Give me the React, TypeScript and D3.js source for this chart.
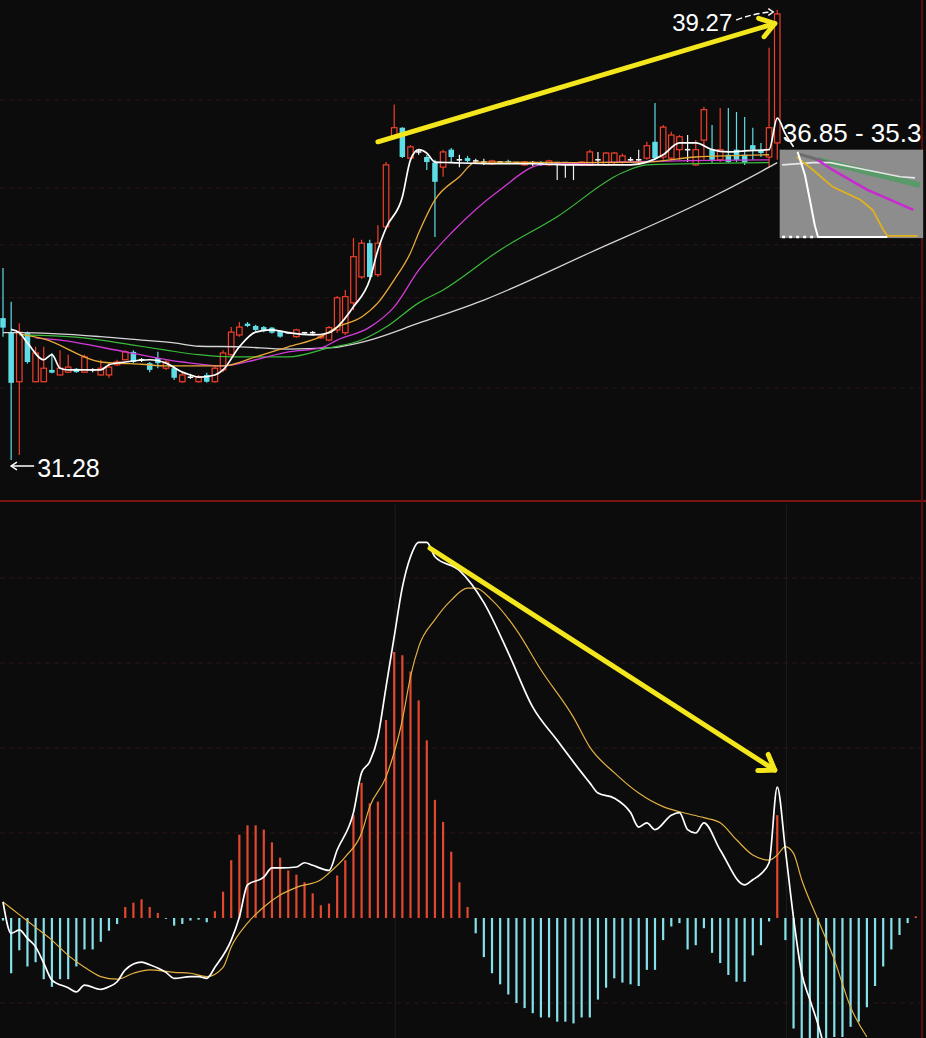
import React, { useEffect } from 'react';
import * as d3 from 'd3';

const W = 926;
const H = 1038;

// ---------- price panel: candles (index 0..95) ----------
const candleOpen = [33.80,33.54,32.67,33.54,32.67,32.67,32.88,32.79,32.84,32.90,32.84,32.88,32.79,32.79,32.97,33.06,33.20,33.06,33.00,33.09,32.91,32.91,32.67,32.75,32.67,32.79,32.67,32.88,33.15,33.50,33.70,33.66,33.64,33.63,33.57,33.54,33.47,33.54,33.54,33.45,33.41,33.59,33.54,34.07,34.53,35.13,34.57,35.42,37.03,37.18,36.64,36.75,36.66,36.56,36.48,36.79,36.61,36.64,36.59,36.57,36.54,36.57,36.59,36.56,36.52,36.56,36.57,36.52,36.56,36.56,36.54,36.52,36.52,36.61,36.52,36.56,36.57,36.61,36.61,36.64,36.93,36.66,36.64,36.79,36.79,36.52,36.96,36.79,36.61,36.70,36.79,36.70,36.87,36.79,36.66,36.91];
const candleClose = [33.63,32.65,33.55,33.02,33.18,32.91,32.83,32.91,32.93,32.84,33.11,32.88,32.91,32.93,33.02,33.20,33.02,33.06,32.88,33.00,33.02,32.74,32.79,32.75,32.75,32.67,32.91,33.18,33.55,33.64,33.66,33.59,33.57,33.54,33.47,33.54,33.59,33.54,33.54,33.48,33.63,34.16,34.18,34.89,35.13,34.53,35.13,36.52,37.18,36.66,36.84,36.75,36.57,36.22,36.75,36.66,36.61,36.59,36.59,36.57,36.59,36.57,36.56,36.56,36.57,36.56,36.52,36.59,36.56,36.56,36.54,36.57,36.75,36.61,36.73,36.73,36.68,36.61,36.61,36.86,36.64,37.19,37.05,37.02,36.79,36.79,37.50,36.61,36.79,36.57,36.61,36.56,36.79,36.73,37.18,39.20];
const candleHigh = [34.69,34.09,33.71,33.56,33.29,33.29,33.18,33.23,33.15,32.91,33.15,32.91,33.06,33.02,33.06,33.23,33.23,33.09,33.02,33.20,33.06,32.95,32.84,32.81,32.79,32.83,32.95,33.23,33.64,33.73,33.73,33.68,33.66,33.64,33.59,33.55,33.61,33.55,33.57,33.50,33.66,34.19,34.30,35.22,35.19,35.19,35.45,36.57,37.59,37.19,36.87,36.79,36.70,36.61,36.79,36.82,36.70,36.68,36.63,36.63,36.61,36.59,36.61,36.57,36.59,36.59,36.59,36.61,36.57,36.57,36.56,36.59,36.79,36.75,36.75,36.75,36.72,36.66,36.79,36.93,37.62,37.23,37.11,37.05,37.05,36.96,37.55,37.23,37.53,37.53,37.46,37.37,37.18,36.91,38.60,39.27];
const candleLow = [33.47,31.28,31.37,32.99,32.66,32.66,32.82,32.78,32.83,32.83,32.83,32.84,32.78,32.74,32.95,33.05,33.00,33.02,32.84,32.91,32.88,32.70,32.65,32.72,32.65,32.65,32.65,32.84,33.11,33.47,33.64,33.57,33.55,33.52,33.45,33.52,33.45,33.52,33.50,33.43,33.39,33.54,33.50,33.94,34.50,34.51,34.53,35.37,37.02,36.64,36.61,36.70,36.43,35.24,36.31,36.57,36.48,36.56,36.56,36.52,36.52,36.56,36.54,36.54,36.50,36.50,36.50,36.50,36.25,36.29,36.25,36.50,36.50,36.52,36.50,36.52,36.54,36.56,36.52,36.61,36.61,36.61,36.61,36.61,36.57,36.50,36.61,36.56,36.57,36.56,36.57,36.52,36.61,36.66,36.48,36.61];

// ---------- moving averages (sampled index / value) ----------
const ma5Idx = [1,2,3,5,6,7,8,12,13,15,18,20,22,23,24,26,27,29,31,33,35,38,40,41,43,45,46,47,49,50,51,52,53,55,60,65,70,77,79,81,83,85,87,89,91,94,95,96,97];
const ma5Val = [33.60,33.54,33.36,33.06,33.15,32.91,32.88,32.88,32.97,33.02,33.06,33.00,32.84,32.79,32.75,32.79,32.88,33.29,33.55,33.59,33.54,33.50,33.54,33.64,34.00,34.48,35.01,35.40,35.95,36.61,36.79,36.73,36.57,36.56,36.54,36.54,36.52,36.52,36.57,36.70,36.91,36.91,36.79,36.75,36.77,36.79,37.35,37.07,36.84];
const ma10Idx = [2,5,12,14,17,20,24,27,31,35,39,41,44,46,48,50,51,53,56,58,61,70,79,85,94];
const ma10Val = [33.52,33.43,33.02,33.00,32.98,32.95,32.95,32.95,33.11,33.29,33.47,33.64,33.82,34.07,34.48,34.96,35.31,35.90,36.31,36.57,36.57,36.56,36.57,36.66,36.70];
const ma20Idx = [4,7,15,22,27,31,35,39,41,45,48,51,55,61,66,73,94];
const ma20Val = [33.45,33.41,33.20,33.02,32.95,33.06,33.20,33.27,33.41,33.64,34.00,34.65,35.31,36.08,36.52,36.56,36.61];
const ma30Idx = [2,8,12,16,20,24,28,35,40,44,47,51,54,61,68,76,79,94];
const ma30Val = [33.50,33.47,33.41,33.32,33.23,33.15,33.11,33.11,33.27,33.41,33.64,34.07,34.30,35.01,35.60,36.38,36.52,36.56];
const ma60Idx = [0,2,12,17,21,24,29,35,40,45,51,59,72,87,94,95];
const ma60Val = [33.54,33.54,33.47,33.41,33.36,33.30,33.29,33.25,33.27,33.41,33.71,34.12,34.96,35.95,36.48,36.56];

const priceGrid = [37.67, 36.11, 35.10, 34.16, 32.56];

// ---------- pasted grey inset (its own lines, same scales) ----------
const insetBounds = { i0: 95.3, i1: 112.9, pTop: 36.79, pBottom: 35.22 };
const insetWhite: [number, number][] = [[97.5,36.75],[98.4,36.34],[99,35.90],[99.6,35.45],[100,35.24],[108.5,35.24]];
const insetDots: [number, number][] = [[95.6,35.24],[99.8,35.24]];
const insetYellow: [number, number][] = [[97.4,36.66],[99.4,36.43],[101.8,36.13],[105.2,35.90],[106.7,35.72],[108,35.37],[108.5,35.26],[112.2,35.26]];
const insetMagenta: [number, number][] = [[99.9,36.61],[101.8,36.43],[106,36.08],[111.7,35.72]];
const insetGreen: [number, number][] = [[99.9,36.61],[103.9,36.47],[110.1,36.25],[112.5,36.16]];
const insetLight: [number, number][] = [[95.6,36.52],[99.4,36.56],[101.5,36.56],[106,36.43],[110.1,36.31],[111.9,36.29]];
const insetGrey: [number, number][] = [[97.5,36.72],[101.5,36.55]];

// ---------- MACD panel ----------
const macdHist = [-0.003,-0.065,-0.038,-0.057,-0.052,-0.072,-0.081,-0.072,-0.072,-0.057,-0.037,-0.037,-0.028,-0.015,-0.007,0.013,0.018,0.022,0.013,0.006,-0.001,-0.009,-0.007,-0.003,-0.002,-0.005,0.008,0.031,0.068,0.098,0.109,0.109,0.104,0.089,0.071,0.056,0.051,0.042,0.029,0.015,0.017,0.050,0.068,0.121,0.159,0.135,0.137,0.233,0.313,0.309,0.290,0.256,0.209,0.139,0.113,0.078,0.042,0.013,-0.018,-0.046,-0.065,-0.078,-0.090,-0.100,-0.106,-0.112,-0.117,-0.117,-0.122,-0.122,-0.124,-0.117,-0.117,-0.096,-0.082,-0.071,-0.076,-0.078,-0.080,-0.061,-0.061,-0.026,-0.010,-0.006,-0.037,-0.032,-0.012,-0.041,-0.053,-0.067,-0.075,-0.075,-0.044,-0.032,-0.004,0.121,-0.026,-0.130,-0.150,-0.160,-0.160,-0.150,-0.140,-0.140,-0.128,-0.122,-0.105,-0.080,-0.057,-0.037,-0.020,-0.006,0.002];
const difIdx = [0,1,2,3,4,5,6,8,9,10,12,13,14,15,17,18,20,21,23,24,25,26,28,29,30,32,33,34,36,37,38,40,41,43,44,45,46,47,48,49,50,51,52,53,56,59,62,65,68,71,72,73,75,77,78,79,80,82,83,84,85,86,88,91,92,93,94,95,96,97,98,99,100,101];
const difVal = [0.019,-0.018,-0.014,-0.024,-0.034,-0.053,-0.073,-0.082,-0.087,-0.079,-0.084,-0.081,-0.075,-0.061,-0.052,-0.055,-0.064,-0.071,-0.069,-0.069,-0.071,-0.058,-0.026,0.001,0.039,0.048,0.059,0.059,0.060,0.065,0.062,0.056,0.080,0.124,0.171,0.184,0.213,0.272,0.331,0.389,0.425,0.442,0.442,0.425,0.409,0.371,0.312,0.248,0.209,0.171,0.159,0.147,0.141,0.124,0.107,0.112,0.104,0.121,0.124,0.104,0.100,0.112,0.080,0.039,0.045,0.052,0.065,0.154,0.080,0.000,-0.065,-0.096,-0.125,-0.160];
const deaIdx = [0,2,4,6,8,10,12,14,16,18,21,23,25,27,28,30,32,34,36,39,40,42,44,45,47,49,50,51,53,55,57,58,60,63,66,70,72,75,78,81,83,86,88,90,92,94,95,96,97,98,100,102,104,106];
const deaVal = [0.019,0.004,-0.011,-0.026,-0.044,-0.058,-0.069,-0.072,-0.065,-0.061,-0.064,-0.065,-0.069,-0.058,-0.034,-0.006,0.013,0.027,0.036,0.045,0.053,0.072,0.100,0.131,0.166,0.233,0.284,0.319,0.351,0.374,0.388,0.388,0.374,0.339,0.292,0.236,0.201,0.171,0.147,0.131,0.125,0.118,0.112,0.092,0.074,0.068,0.074,0.084,0.076,0.045,-0.002,-0.049,-0.105,-0.140];
const macdGrid = [0.4, 0.3, 0.2, 0.1, -0.1];
const macdVLines = [48, 96];

// ---------- annotations ----------
const highLabel = '39.27';
const lowLabel = '31.28';
const rangeLabel = '36.85 - 35.3';
const priceArrow = { from: [46, 36.93], to: [94.7, 39.03] };
const macdArrow = { from: [52.4, 0.435], to: [94.7, 0.174] };

const BG = '#0c0c0c';
const RED = '#f0402c';
const CYAN = '#5fdde6';
const FONT = "'Liberation Sans', Arial, sans-serif";

function zip(a: number[], b: number[]): [number, number][] {
  return a.map((v, k) => [v, b[k]] as [number, number]);
}

export default function App() {
  useEffect(() => {
    document.body.style.margin = '0';
    document.body.style.background = BG;
  }, []);

  const x = d3.scaleLinear().domain([0, 112]).range([3, 915.8]);
  const y = d3.scaleLinear().domain([31.28, 39.27]).range([460, 10]);
  const m = d3.scaleLinear().domain([0, 0.1]).range([918, 833]);

  const priceLine = d3.line<[number, number]>().x(d => x(d[0])).y(d => y(d[1])).curve(d3.curveMonotoneX);
  const priceLinear = d3.line<[number, number]>().x(d => x(d[0])).y(d => y(d[1]));
  const macdLine = d3.line<[number, number]>().x(d => x(d[0])).y(d => m(d[1])).curve(d3.curveMonotoneX);

  const bodyW = 5.5;

  const arrowHead = (x1: number, y1: number, x2: number, y2: number, len: number) => {
    const a = Math.atan2(y2 - y1, x2 - x1);
    const s = 0.6;
    const p1 = [x2 - len * Math.cos(a - s), y2 - len * Math.sin(a - s)];
    const p2 = [x2 - len * Math.cos(a + s), y2 - len * Math.sin(a + s)];
    return `M${p1[0]},${p1[1]}L${x2},${y2}L${p2[0]},${p2[1]}`;
  };

  const pa = {
    x1: x(priceArrow.from[0]), y1: y(priceArrow.from[1]),
    x2: x(priceArrow.to[0]), y2: y(priceArrow.to[1]),
  };
  const ma = {
    x1: x(macdArrow.from[0]), y1: m(macdArrow.from[1]),
    x2: x(macdArrow.to[0]), y2: m(macdArrow.to[1]),
  };

  const hiIdx = candleHigh.indexOf(Math.max(...candleHigh));
  const loIdx = candleLow.indexOf(Math.min(...candleLow));
  const hx = x(hiIdx), hy = y(candleHigh[hiIdx]);
  const lx = x(loIdx), ly = y(candleLow[loIdx]);

  const bx0 = x(insetBounds.i0), bx1 = x(insetBounds.i1);
  const by0 = y(insetBounds.pTop), by1 = y(insetBounds.pBottom);

  return (
    <div style={{ position: 'absolute', left: 0, top: 0, width: W, height: H, background: BG }}>
      <svg width={W} height={H} style={{ display: 'block' }}>
        <rect x={0} y={0} width={W} height={H} fill={BG} />
        <defs>
          <clipPath id="macdClip"><rect x={0} y={503} width={921} height={H - 503} /></clipPath>
          <clipPath id="priceClip"><rect x={0} y={0} width={921} height={500} /></clipPath>
        </defs>

        {/* grids */}
        {priceGrid.map((p, k) => (
          <line key={'pg' + k} x1={0} x2={921} y1={y(p)} y2={y(p)} stroke="#2a1616" strokeWidth={1} strokeDasharray="5,4" />
        ))}
        {macdGrid.map((v, k) => (
          <line key={'mg' + k} x1={0} x2={921} y1={m(v)} y2={m(v)} stroke="#2a1616" strokeWidth={1} strokeDasharray="5,4" />
        ))}
        {macdVLines.map((i, k) => (
          <line key={'mv' + k} x1={x(i) + 1} x2={x(i) + 1} y1={505} y2={H} stroke="#1d1d1d" strokeWidth={1} />
        ))}

        {/* panel borders */}
        <line x1={0} x2={926} y1={501} y2={501} stroke="#7a1414" strokeWidth={2} />
        <line x1={922} x2={922} y1={0} y2={H} stroke="#5a1010" strokeWidth={2} />

        {/* candles */}
        <g clipPath="url(#priceClip)">
          {candleOpen.map((o, i) => {
            const c = candleClose[i];
            const cx = x(i);
            const up = c > o, down = c < o;
            const col = up ? RED : down ? CYAN : '#f2f2f2';
            const top = y(Math.max(o, c));
            const bot = y(Math.min(o, c));
            return (
              <g key={'c' + i}>
                <line x1={cx} x2={cx} y1={y(candleHigh[i])} y2={y(candleLow[i])} stroke={col} strokeWidth={1.2} />
                {up && <rect x={cx - bodyW / 2} y={top} width={bodyW} height={Math.max(1, bot - top)} fill={BG} stroke={col} strokeWidth={1.2} />}
                {down && <rect x={cx - bodyW / 2} y={top} width={bodyW} height={Math.max(1.5, bot - top)} fill={col} />}
                {!up && !down && <line x1={cx - bodyW / 2} x2={cx + bodyW / 2} y1={top} y2={top} stroke={col} strokeWidth={1.6} />}
              </g>
            );
          })}

          {/* moving averages */}
          <path d={priceLine(zip(ma60Idx, ma60Val)) || ''} fill="none" stroke="#d6d6d6" strokeWidth={1.3} />
          <path d={priceLine(zip(ma30Idx, ma30Val)) || ''} fill="none" stroke="#3bbb3b" strokeWidth={1.2} />
          <path d={priceLine(zip(ma20Idx, ma20Val)) || ''} fill="none" stroke="#d23ad8" strokeWidth={1.3} />
          <path d={priceLine(zip(ma10Idx, ma10Val)) || ''} fill="none" stroke="#e8a93a" strokeWidth={1.3} />
          <path d={priceLine(zip(ma5Idx, ma5Val)) || ''} fill="none" stroke="#ffffff" strokeWidth={1.7} />
        </g>

        {/* pasted grey inset */}
        <rect x={bx0} y={by0} width={bx1 - bx0} height={by1 - by0} fill="#8d8d8d" />
        <path d={priceLinear(insetGreen) || ''} fill="none" stroke="#4f9c62" strokeWidth={6} strokeOpacity={0.85} />
        <path d={priceLinear(insetGrey) || ''} fill="none" stroke="#6c6c6c" strokeWidth={3} />
        <path d={priceLinear(insetLight) || ''} fill="none" stroke="#e6e6e6" strokeWidth={1.6} />
        <path d={priceLinear(insetMagenta) || ''} fill="none" stroke="#c82ad0" strokeWidth={2.5} />
        <path d={priceLinear(insetYellow) || ''} fill="none" stroke="#e2b21c" strokeWidth={1.8} />
        <path d={priceLinear(insetWhite) || ''} fill="none" stroke="#ffffff" strokeWidth={2} />
        <path d={priceLinear(insetDots) || ''} fill="none" stroke="#ffffff" strokeWidth={2.5} strokeDasharray="3,4" />

        {/* price annotations */}
        <line x1={pa.x1} y1={pa.y1} x2={pa.x2} y2={pa.y2} stroke="#f4e61c" strokeWidth={5} strokeLinecap="round" />
        <path d={arrowHead(pa.x1, pa.y1, pa.x2, pa.y2, 17)} fill="none" stroke="#f4e61c" strokeWidth={5} strokeLinecap="round" strokeLinejoin="round" />

        <text x={hx - 45} y={hy + 21} fill="#ffffff" fontFamily={FONT} fontSize={24} textAnchor="end">{highLabel}</text>
        <path d={`M${hx - 41},${hy + 10} Q${hx - 22},${hy + 3} ${hx - 6},${hy + 2}`} fill="none" stroke="#ffffff" strokeWidth={1.4} strokeDasharray="6,3" />
        <path d={arrowHead(hx - 14, hy + 2, hx - 4, hy + 2, 6)} fill="none" stroke="#ffffff" strokeWidth={1.4} />

        <text x={bx0 + 3} y={by0 - 8} fill="#ffffff" fontFamily={FONT} fontSize={26}>{rangeLabel}</text>

        <line x1={lx} y1={ly + 6} x2={lx + 23} y2={ly + 6} stroke="#ffffff" strokeWidth={1.5} />
        <path d={arrowHead(lx + 10, ly + 6, lx, ly + 6, 7)} fill="none" stroke="#ffffff" strokeWidth={1.5} />
        <text x={lx + 26} y={ly + 17} fill="#ffffff" fontFamily={FONT} fontSize={25}>{lowLabel}</text>

        {/* MACD panel */}
        <g clipPath="url(#macdClip)">
          {macdHist.map((v, i) => (
            <line key={'h' + i} x1={x(i)} x2={x(i)} y1={m(0)} y2={m(v) === m(0) ? m(0) + 1 : m(v)}
              stroke={v >= 0 ? '#e2472f' : '#86e2ea'} strokeWidth={2.2} />
          ))}
          <path d={macdLine(zip(deaIdx, deaVal)) || ''} fill="none" stroke="#e2b043" strokeWidth={1.2} />
          <path d={macdLine(zip(difIdx, difVal)) || ''} fill="none" stroke="#ffffff" strokeWidth={1.7} />
        </g>

        <line x1={ma.x1} y1={ma.y1} x2={ma.x2} y2={ma.y2} stroke="#f4e61c" strokeWidth={5} strokeLinecap="round" />
        <path d={arrowHead(ma.x1, ma.y1, ma.x2, ma.y2, 17)} fill="none" stroke="#f4e61c" strokeWidth={5} strokeLinecap="round" strokeLinejoin="round" />
      </svg>
    </div>
  );
}
